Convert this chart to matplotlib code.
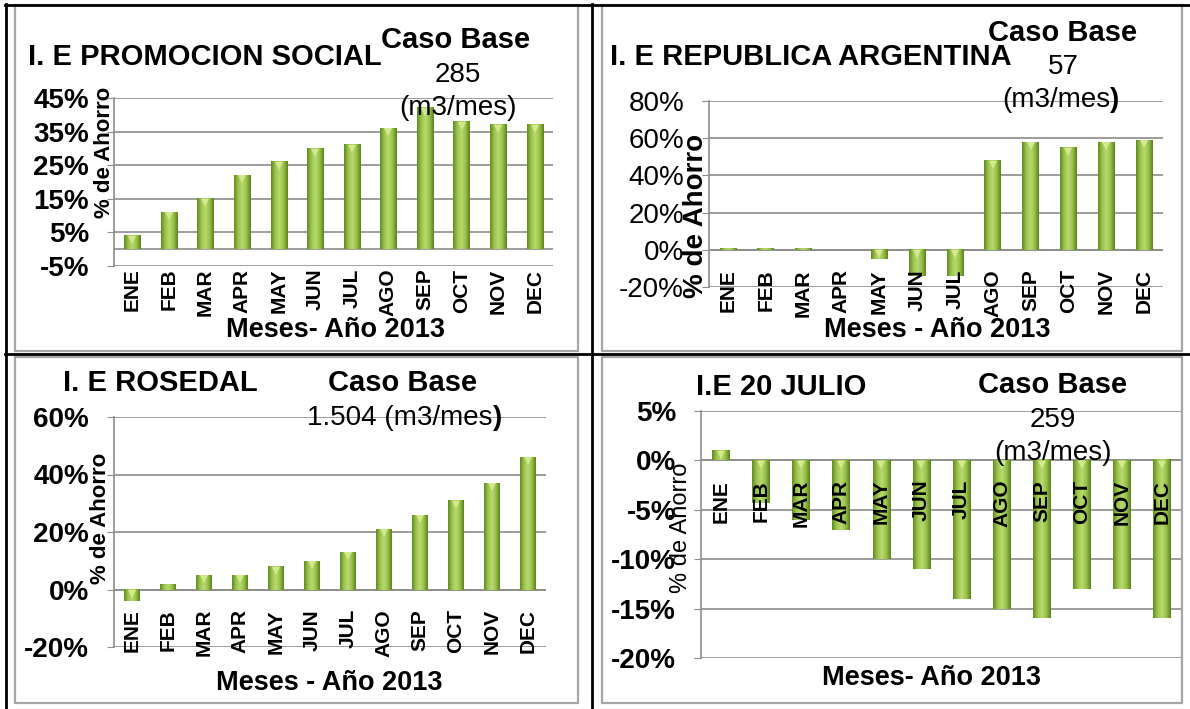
import matplotlib
matplotlib.use('Agg')
import matplotlib.pyplot as plt
from matplotlib.colors import LinearSegmentedColormap
from matplotlib.lines import Line2D
from matplotlib.patches import Rectangle
from matplotlib.transforms import offset_copy
import numpy as np

plt.rcParams['font.family'] = ['Liberation Sans', 'DejaVu Sans']

W, H = 1190, 709

# --- data ---
months = ['ENE', 'FEB', 'MAR', 'APR', 'MAY', 'JUN', 'JUL', 'AGO', 'SEP', 'OCT', 'NOV', 'DEC']
promocion = [4, 11, 15, 22, 26, 30, 31, 36, 42, 38, 37, 37]
republica = [1, 1, 1, 0, -5, -14, -14, 48, 58, 55, 58, 59]
rosedal = [-4, 2, 5, 5, 8, 10, 13, 21, 26, 31, 37, 46]
julio = [1, -4.3, -6, -7, -10, -11, -14, -15, -16, -13, -13, -16]

ticks_promocion = [-5, 5, 15, 25, 35, 45]
ticks_republica = [-20, 0, 20, 40, 60, 80]
ticks_rosedal = [-20, 0, 20, 40, 60]
ticks_julio = [-20, -15, -10, -5, 0, 5]

GRID = '#8c8c8c'
bar_cmap = LinearSegmentedColormap.from_list(
    'cyl', ['#628b20', '#9cc44e', '#b9da70', '#98c14a', '#5a8219'])


def fx(x):
    return x / W


def fy(y):
    return 1 - y / H


def make_axes(x0, x1, ytop, ybot):
    return fig.add_axes([fx(x0), fy(ybot), fx(x1) - fx(x0), fy(ytop) - fy(ybot)])


def draw_panel(ax, values, yticks, tick_bold=True):
    x = np.arange(len(months))
    bars = ax.bar(x, values, width=0.44, color='#8ab43c', zorder=3)
    grad = np.linspace(0, 1, 64).reshape(1, -1)
    for b in bars:
        x0, w = b.get_x(), b.get_width()
        y0, h = b.get_y(), b.get_height()
        if h == 0:
            continue
        ax.imshow(grad, cmap=bar_cmap, aspect='auto', interpolation='bicubic',
                  extent=(x0, x0 + w, min(y0, y0 + h), max(y0, y0 + h)), zorder=4)
    # light bevel on the upper end of each bar (only where the bar is tall enough)
    span = yticks[-1] - yticks[0]
    keep = [i for i, v in enumerate(values) if abs(v) > 0.035 * span]
    bevel = offset_copy(ax.transData, fig=fig, x=0, y=-3, units='points')
    ax.plot(keep, [max(values[i], 0) for i in keep], linestyle='none', marker='v',
            ms=6, color='#d3e98f', markeredgewidth=0, zorder=5, transform=bevel)
    ax.set_xlim(-0.5, len(months) - 0.5)
    ax.set_ylim(yticks[0], yticks[-1])
    ax.set_yticks(yticks)
    ax.set_yticklabels([f'{t}%' for t in yticks], fontsize=20,
                       fontweight='bold' if tick_bold else 'normal')
    ax.set_xticks([])
    ax.yaxis.grid(True, color=GRID, lw=1.2, zorder=1)
    ax.set_axisbelow(True)
    ax.axhline(0, color=GRID, lw=1.2, zorder=1)
    for s in ['top', 'right', 'bottom']:
        ax.spines[s].set_visible(False)
    ax.spines['left'].set_color(GRID)
    ax.spines['left'].set_linewidth(1.2)
    ax.tick_params(axis='y', length=5, color=GRID, pad=13)
    ax.patch.set_alpha(0)
    for i, m in enumerate(months):
        ax.annotate(m, xy=(i, 0), xytext=(0, -14), textcoords='offset points',
                    rotation=90, ha='center', va='top', fontsize=15,
                    fontweight='bold', zorder=6)


fig = plt.figure(figsize=(W / 100, H / 100), dpi=100)
fig.patch.set_facecolor('white')

# gray chart frames
for (l, t, r, b) in [(15, 5, 578, 351), (602, 5, 1182, 351),
                     (15, 357, 578, 703), (602, 357, 1182, 703)]:
    fig.add_artist(Rectangle((fx(l), fy(b)), fx(r) - fx(l), fy(t) - fy(b),
                             transform=fig.transFigure, fill=False,
                             edgecolor='#a6a6a6', lw=1.6))

# black table lines
for xs_, ys_ in [([5, 1190], [5, 5]), ([6, 6], [4, 709]),
                 ([592, 592], [4, 709]), ([5, 1190], [354, 354])]:
    fig.add_artist(Line2D([fx(v) for v in xs_], [fy(v) for v in ys_],
                          transform=fig.transFigure, color='black', lw=2))

# === panel 1: PROMOCION SOCIAL ===
ax1 = make_axes(114, 553, 98, 266)
draw_panel(ax1, promocion, ticks_promocion)
fig.text(fx(28), fy(57), 'I. E PROMOCION SOCIAL', fontsize=21, fontweight='bold', va='center')
fig.text(fx(456), fy(40), 'Caso Base', fontsize=21, fontweight='bold', ha='center', va='center')
fig.text(fx(458), fy(75), '285', fontsize=20, ha='center', va='center')
fig.text(fx(458), fy(108), '(m3/mes)', fontsize=20, ha='center', va='center')
fig.text(fx(105), fy(152), '% de Ahorro', fontsize=16, fontweight='bold',
         rotation=90, ha='center', va='center')
fig.text(fx(335), fy(330), 'Meses- Año 2013', fontsize=19.5, fontweight='bold',
         ha='center', va='center')

# === panel 2: REPUBLICA ARGENTINA ===
ax2 = make_axes(709, 1163, 101, 287)
draw_panel(ax2, republica, ticks_republica, tick_bold=False)
fig.text(fx(610), fy(57), 'I. E REPUBLICA ARGENTINA', fontsize=21, fontweight='bold', va='center')
fig.text(fx(1063), fy(33), 'Caso Base', fontsize=21, fontweight='bold', ha='center', va='center')
fig.text(fx(1063), fy(67), '57', fontsize=20, ha='center', va='center')
t2 = fig.text(fx(1056), fy(100), '(m3/mes', fontsize=20, ha='center', va='center')
ax2.annotate(')', xy=(1, 0), xycoords=t2, ha='left', va='bottom',
             fontsize=20, fontweight='bold', annotation_clip=False)
fig.text(fx(696), fy(216), '% de Ahorro', fontsize=20, fontweight='bold',
         rotation=90, ha='center', va='center')
fig.text(fx(937), fy(330), 'Meses - Año 2013', fontsize=19.5, fontweight='bold',
         ha='center', va='center')

# === panel 3: ROSEDAL ===
ax3 = make_axes(114, 546, 417, 647)
draw_panel(ax3, rosedal, ticks_rosedal)
fig.text(fx(63), fy(383), 'I. E ROSEDAL', fontsize=21, fontweight='bold', va='center')
fig.text(fx(403), fy(383), 'Caso Base', fontsize=21, fontweight='bold', ha='center', va='center')
t3 = fig.text(fx(400), fy(418), '1.504 (m3/mes', fontsize=20, ha='center', va='center')
ax3.annotate(')', xy=(1, 0), xycoords=t3, ha='left', va='bottom',
             fontsize=20, fontweight='bold', annotation_clip=False)
fig.text(fx(100), fy(518), '% de Ahorro', fontsize=16, fontweight='bold',
         rotation=90, ha='center', va='center')
fig.text(fx(329), fy(683), 'Meses - Año 2013', fontsize=19.5, fontweight='bold',
         ha='center', va='center')

# === panel 4: 20 JULIO ===
ax4 = make_axes(701, 1182, 411, 658)
draw_panel(ax4, julio, ticks_julio)
fig.text(fx(696), fy(387), 'I.E 20 JULIO', fontsize=21, fontweight='bold', va='center')
fig.text(fx(1053), fy(385), 'Caso Base', fontsize=21, fontweight='bold', ha='center', va='center')
fig.text(fx(1053), fy(420), '259', fontsize=20, ha='center', va='center')
fig.text(fx(1053), fy(453), '(m3/mes)', fontsize=20, ha='center', va='center')
fig.text(fx(681), fy(528), '% de Ahorro', fontsize=17,
         rotation=90, ha='center', va='center')
fig.text(fx(931), fy(678), 'Meses- Año 2013', fontsize=19.5, fontweight='bold',
         ha='center', va='center')

plt.savefig('out.png', dpi=100)
plt.close()
